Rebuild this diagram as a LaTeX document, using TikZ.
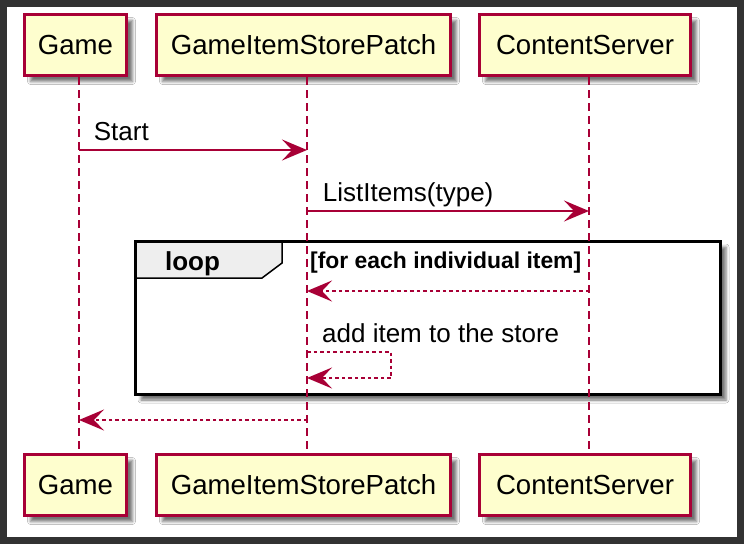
\documentclass[tikz,border=0pt]{standalone}
\usepackage{fontspec}
\setmainfont{Liberation Sans}
\usetikzlibrary{arrows.meta,shadows.blur,calc}

\definecolor{umlred}{HTML}{A80036}
\definecolor{umlyellow}{HTML}{FEFECE}
\definecolor{tabgray}{HTML}{EEEEEE}
\definecolor{darkframe}{RGB}{50,50,50}

\tikzset{
	umlshadow/.style = {blur shadow={shadow xshift=6pt, shadow yshift=-6pt, shadow blur radius=3pt, shadow opacity=55}},
	participant/.style = {draw=umlred, line width=3pt, fill=umlyellow, minimum height=61pt, inner sep=0pt,
		font=\fontsize{27.6}{32}\selectfont, umlshadow},
	lifeline/.style = {draw=umlred, line width=1.6pt, dash pattern=on 8pt off 5pt},
	msg/.style = {draw=umlred, line width=1.8pt, -{Stealth[length=25pt, width=21pt, inset=10pt]}},
	reply/.style = {msg, dash pattern=on 3.5pt off 3pt},
	msglabel/.style = {anchor=base west, inner sep=0pt, xshift=15pt, yshift=10pt, font=\fontsize{26}{30}\selectfont},
}

\begin{document}
\begin{tikzpicture}[x=1pt, y=-1pt]
	
	% frame of the screenshot
	\fill[darkframe] (0,0) rectangle (744,544);
	\fill[white] (7,7) rectangle (737,537);
	
	% loop frame
	\path[fill=white, umlshadow] (135,241) rectangle (720,394);
	\draw[fill=tabgray, line width=1.5pt] (135,241) -- (282,241) -- (282,263) -- (262,278) -- (135,278) -- cycle;
	\draw[line width=3pt] (135,241) rectangle (720,394);
	\node[anchor=base, inner sep=0pt, font=\fontsize{26}{30}\selectfont\bfseries] (loopTab) at (192.5,270) {loop};
	\node[anchor=base west, inner sep=0pt, font=\fontsize{22.9}{26}\selectfont\bfseries] (loopGuard) at (310,268) {[for each individual item]};
	
	% lifeline positions
	\coordinate (gameL) at (79,0);
	\coordinate (patchL) at (307,0);
	\coordinate (serverL) at (589,0);
	
	% participants top
	\node[participant, minimum width=102pt] (gameTop) at (75.5,45) {Game};
	\node[participant, minimum width=294pt] (patchTop) at (303.5,45) {GameItemStorePatch};
	\node[participant, minimum width=211pt] (serverTop) at (585,45) {ContentServer};
	
	% participants bottom
	\node[participant, minimum width=102pt] (gameBot) at (75.5,485) {Game};
	\node[participant, minimum width=294pt] (patchBot) at (303.5,485) {GameItemStorePatch};
	\node[participant, minimum width=211pt] (serverBot) at (585,485) {ContentServer};
	
	% lifelines
	\draw[lifeline] (gameTop.south -| gameL) -- (gameBot.north -| gameL);
	\draw[lifeline] (patchTop.south -| patchL) -- (patchBot.north -| patchL);
	\draw[lifeline] (serverTop.south -| serverL) -- (serverBot.north -| serverL);
	
	% message ends
	\coordinate (startG) at (79,150);
	\coordinate (startP) at (307,150);
	\coordinate (listP) at (307,211);
	\coordinate (listS) at (589,211);
	\coordinate (itemS) at (589,291);
	\coordinate (itemP) at (307,291);
	\coordinate (addA) at (307,352);
	\coordinate (addB) at (307,378);
	\coordinate (doneP) at (307,420);
	\coordinate (doneG) at (79,420);
	
	% messages
	\draw[msg] (startG) -- (startP) node[pos=0, msglabel, xshift=-1pt] {Start};
	\draw[msg] (listP) -- (listS) node[pos=0, msglabel] {ListItems(type)};
	\draw[reply] (itemS) -- (itemP);
	\draw[reply] (addA) -- ++(84,0) |- (addB);
	\node[msglabel] (addLabel) at (addA) {add item to the store};
	\draw[reply] (doneP) -- (doneG);
	
\end{tikzpicture}
\end{document}
